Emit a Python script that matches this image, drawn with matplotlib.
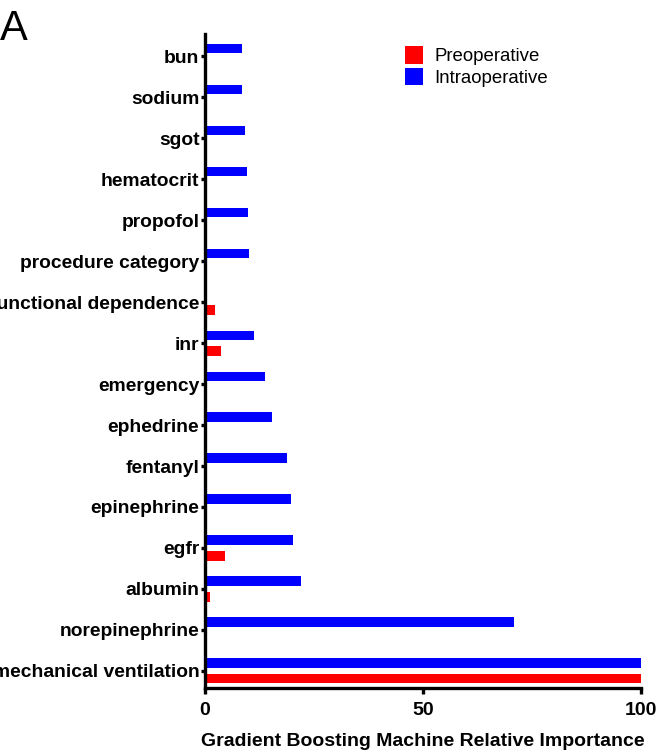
import matplotlib.pyplot as plt
import numpy as np

plt.rcParams['font.family'] = ['Liberation Sans', 'DejaVu Sans']

# features from bottom to top
features = ['mechanical ventilation', 'norepinephrine', 'albumin', 'egfr',
            'epinephrine', 'fentanyl', 'ephedrine', 'emergency', 'inr',
            'functional dependence', 'procedure category', 'propofol',
            'hematocrit', 'sgot', 'sodium', 'bun']
intraop = [100, 70.8, 22.0, 20.3, 19.7, 18.8, 15.5, 13.8, 11.2,
           0, 10.2, 9.9, 9.6, 9.2, 8.5, 8.4]
preop = [100, 0, 1.1, 4.6, 0, 0, 0, 0, 3.7, 2.3, 0, 0, 0, 0, 0, 0]

y = np.arange(len(features))

fig = plt.figure(figsize=(6.63, 7.54), dpi=100)
ax = fig.add_axes([0.309, 0.0875, 0.658, 0.8675])

h = 0.235
ax.barh(y + 0.19, intraop, height=h, color='#0000ff', label='Intraoperative')
ax.barh(y - 0.19, preop, height=h, color='#ff0000', label='Preoperative')

ax.set_xlim(0, 100)
ax.set_ylim(-0.42, 15.55)
ax.set_yticks(y)
ax.set_yticklabels(features, fontsize=13.9, fontweight='bold')
ax.set_xticks([0, 50, 100])
ax.set_xticklabels(['0', '50', '100'], fontsize=14, fontweight='bold')
ax.set_xlabel('Gradient Boosting Machine Relative Importance', fontsize=14,
              fontweight='bold', labelpad=10)

for s in ['top', 'right']:
    ax.spines[s].set_visible(False)
for s in ['left', 'bottom']:
    ax.spines[s].set_linewidth(2.4)
ax.tick_params(axis='y', length=3, width=2.4, pad=1)
ax.tick_params(axis='x', length=4, width=2.4, pad=6)

handles, labels = ax.get_legend_handles_labels()
ax.legend(handles[::-1], labels[::-1], loc='upper left',
          bbox_to_anchor=(0.43, 1.0), frameon=False, fontsize=13.4,
          handlelength=1.0, handleheight=1.1, handletextpad=0.6,
          labelspacing=0.12, borderaxespad=0.25)

fig.text(0.0, 0.988, 'A', fontsize=30, va='top', ha='left')

fig.savefig('out.png', dpi=100)
